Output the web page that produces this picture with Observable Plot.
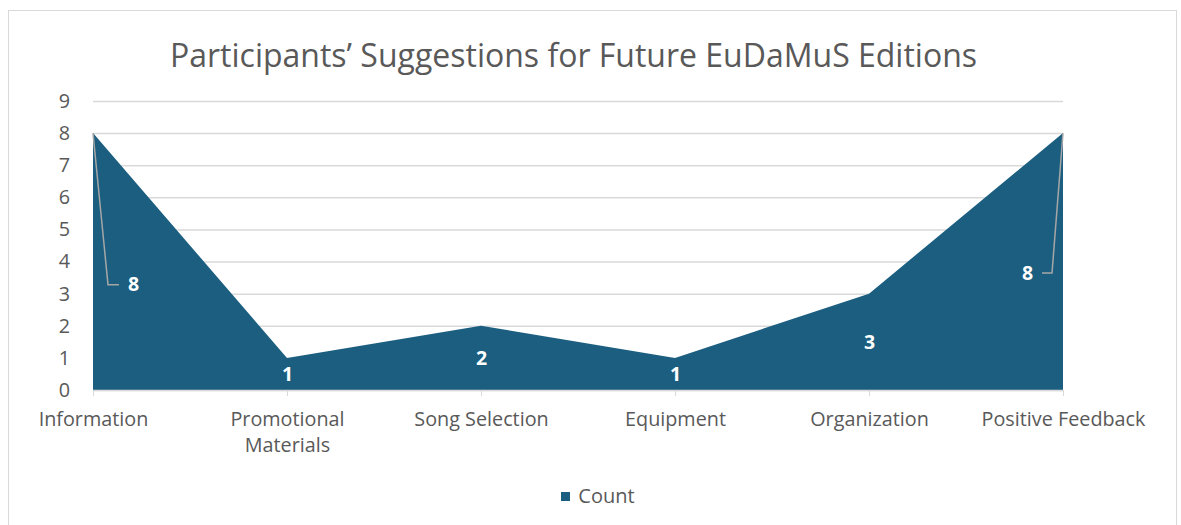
<!DOCTYPE html>
<html>
<head>
<meta charset="utf-8">
<script src="https://cdn.jsdelivr.net/npm/d3@7"></script>
<script src="https://cdn.jsdelivr.net/npm/@observablehq/plot@0.6"></script>
<style>
  html, body { margin: 0; padding: 0; background: #fff; overflow: hidden; }
  body { width: 1181px; height: 525px; position: relative; font-family: "Open Sans", sans-serif; }
  #frame { position: absolute; left: 8px; top: 10px; width: 1169px; height: 600px; border: 1px solid #d9d9d9; box-sizing: border-box; pointer-events: none; }
  #title { height: 78px; box-sizing: border-box; padding-top: 35px; line-height: 40px; font-size: 32px; color: #595959; width: 1147px; text-align: center; white-space: nowrap; }
  #chart svg { display: block; }
  #legend { height: 60px; box-sizing: border-box; padding-top: 19px; line-height: 24px; font-size: 20px; color: #595959; width: 1196px; text-align: center; }
  #legend .sw { display: inline-block; width: 9px; height: 9px; background: #1b5e80; margin-right: 8px; vertical-align: 2px; }
</style>
</head>
<body>
<div id="frame"></div>
<div id="title">Participants’ Suggestions for Future EuDaMuS Editions</div>
<div id="chart"></div>
<div id="legend"><span class="sw"></span>Count</div>
<script>
const categories = ["Information", "Promotional Materials", "Song Selection", "Equipment", "Organization", "Positive Feedback"];
const counts = [8, 1, 2, 1, 3, 8];
const yTicks = [0, 1, 2, 3, 4, 5, 6, 7, 8, 9];
const tickLabels = {"Promotional Materials": "Promotional\nMaterials"};
const seriesName = "Count";

const data = categories.map((c, i) => ({category: c, count: counts[i]}));

const fillColor = "#1b5e80";
const textColor = "#595959";
const fontSize = 19.8;

// Excel-style label placement: middle of the area; the two end labels are dragged
// inward and connected to their points by leader lines.
const n = data.length;
const midLabels = data.slice(1, n - 1).map(d => ({...d, ly: d.count / 2}));
const leftLabel = [{...data[0], ly: data[0].count * 0.41}];
const rightLabel = [{...data[n - 1], ly: data[n - 1].count * 0.455}];

function leaders(index, scales) {
  const g = d3.create("svg:g");
  for (const [d, side] of [[leftLabel[0], 1], [rightLabel[0], -1]]) {
    const x0 = scales.x(d.category), y0 = scales.y(d.count);
    const yl = scales.y(d.ly);
    const xk = x0 + side * (side > 0 ? 15 : 11);
    const xe = x0 + side * (side > 0 ? 26 : 21);
    g.append("path")
      .attr("d", `M${x0},${y0}L${xk},${yl}L${xe},${yl}`)
      .attr("fill", "none")
      .attr("stroke", "#a6a6a6")
      .attr("stroke-width", 1.5);
  }
  return g.node();
}

const labelStyle = {x: "category", y: "ly", text: d => String(d.count), fill: "white", fontWeight: "bold", fontSize: 19.5};

const plot = Plot.plot({
  width: 1181,
  height: 387,
  marginLeft: 93,
  marginRight: 118,
  marginTop: 23,
  marginBottom: 75,
  style: {fontFamily: "'Open Sans', sans-serif", fontSize: fontSize + "px", color: textColor, background: "transparent"},
  x: {type: "point", domain: categories, padding: 0},
  y: {domain: [0, 9]},
  marks: [
    Plot.gridY(yTicks, {stroke: "#d9d9d9", strokeOpacity: 1, strokeWidth: 1.5}),
    Plot.areaY(data, {x: "category", y: "count", fill: fillColor, curve: "linear"}),
    Plot.ruleY([0], {stroke: "#d9d9d9", strokeWidth: 1.5}),
    Plot.axisX({tickSize: 6, stroke: "#d9d9d9", strokeOpacity: 1, tickPadding: 11, fill: textColor, fontSize, lineHeight: 1.32,
      tickFormat: d => tickLabels[d] ?? d, label: null, textAnchor: "middle"}),
    Plot.axisY(yTicks, {tickSize: 0, tickPadding: 23, fill: textColor, fontSize, label: null, textAnchor: "middle", dx: -6}),
    leaders,
    Plot.text(midLabels, labelStyle),
    Plot.text(leftLabel, {...labelStyle, dx: 40}),
    Plot.text(rightLabel, {...labelStyle, dx: -36}),
  ]
});

document.getElementById("chart").appendChild(plot);
</script>
</body>
</html>
